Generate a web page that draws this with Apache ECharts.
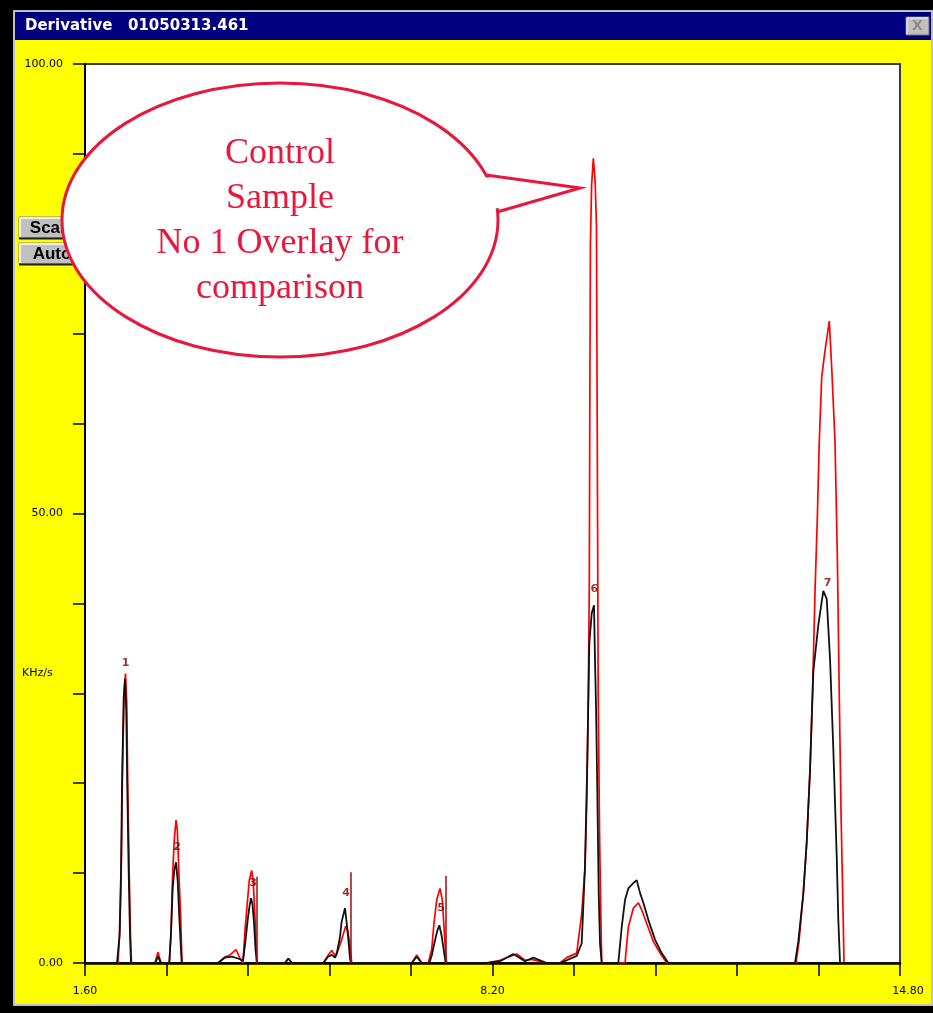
<!DOCTYPE html>
<html>
<head>
<meta charset="utf-8">
<title>Derivative 01050313.461</title>
<script src="https://cdn.jsdelivr.net/npm/echarts@6/dist/echarts.min.js"></script>
<style>
  html, body { margin: 0; padding: 0; background: #000; }
  #chart { width: 933px; height: 1013px; }
</style>
</head>
<body>
<div id="chart"></div>
<script>
// Sample trace (black) and control sample No 1 overlay (red): [time, KHz/s]
const blackTrace = [
  [1.6, 0],
  [2.118, 0], [2.159, 3], [2.183, 10], [2.200, 20], [2.226, 29.5], [2.248, 31.6], [2.268, 28], [2.284, 20], [2.305, 11], [2.329, 3], [2.345, 0],
  [2.734, 0], [2.782, 0.7], [2.831, 0],
  [2.965, 0], [2.993, 3.3], [3.020, 8.3], [3.046, 10.3], [3.074, 11.2], [3.101, 9.2], [3.127, 5.1], [3.150, 2], [3.166, 0],
  [3.754, 0], [3.868, 0.6], [3.981, 0.7], [4.078, 0.5], [4.159, 0.3], [4.200, 2.5], [4.235, 4.8], [4.264, 6.3], [4.289, 7.2], [4.313, 6.5], [4.337, 4.5], [4.362, 1.5], [4.386, 0],
  [4.839, 0], [4.893, 0.5], [4.953, 0],
  [5.460, 0], [5.536, 0.7], [5.596, 0.9], [5.650, 0.6], [5.677, 1.0], [5.730, 2.9], [5.757, 4.6], [5.811, 6.1], [5.839, 4.4], [5.865, 2.6], [5.892, 0.5], [5.908, 0],
  [6.892, 0], [6.973, 0.7], [7.054, 0],
  [7.177, 0], [7.215, 0.8], [7.258, 2.2], [7.306, 3.6], [7.339, 4.2], [7.377, 3.0], [7.415, 1.2], [7.442, 0],
  [8.106, 0], [8.322, 0.2], [8.537, 1.0], [8.727, 0.2], [8.861, 0.6], [9.078, 0],
  [9.294, 0], [9.402, 0.3], [9.564, 0.8], [9.645, 2.2], [9.698, 10.7], [9.736, 22.6], [9.768, 35.6], [9.807, 38.9], [9.844, 39.8], [9.860, 33.7], [9.877, 28.5], [9.898, 18.9], [9.920, 7.8], [9.941, 2.2], [9.969, 0],
  [10.238, 0], [10.293, 4.0], [10.346, 7.0], [10.400, 8.3], [10.481, 8.9], [10.536, 9.2], [10.589, 7.8], [10.643, 6.7], [10.724, 4.8], [10.832, 2.6], [10.940, 1.1], [11.048, 0],
  [13.100, 0], [13.153, 2.4], [13.234, 7.7], [13.289, 13.4], [13.343, 21.5], [13.396, 32.4], [13.477, 37.6], [13.558, 41.4], [13.613, 40.5], [13.667, 33.8], [13.720, 23.8], [13.775, 11.9], [13.801, 4.8], [13.829, 0],
  [14.8, 0]
];

const redTrace = [
  [1.6, 0],
  [2.134, 0], [2.167, 4], [2.191, 12], [2.208, 22], [2.234, 30], [2.256, 32.2], [2.276, 29], [2.292, 20], [2.313, 11], [2.337, 3], [2.353, 0],
  [2.734, 0], [2.782, 1.2], [2.831, 0],
  [2.965, 0], [2.993, 3.3], [3.020, 10], [3.046, 13.7], [3.074, 15.9], [3.095, 14.8], [3.127, 8.9], [3.150, 5.1], [3.171, 0],
  [3.754, 0], [3.851, 0.6], [3.949, 0.9], [4.046, 1.5], [4.111, 0.5], [4.159, 0], [4.192, 3.7], [4.229, 6.7], [4.261, 9.2], [4.300, 10.3], [4.326, 8.9], [4.353, 5.1], [4.381, 0],
  [4.839, 0], [4.893, 0.5], [4.953, 0],
  [5.460, 0], [5.541, 0.9], [5.596, 1.4], [5.650, 0.8], [5.703, 1.5], [5.757, 2.6], [5.822, 4.1], [5.855, 3.6], [5.892, 2.0], [5.920, 0],
  [6.892, 0], [6.973, 0.9], [7.054, 0],
  [7.160, 0], [7.215, 1.5], [7.253, 4.5], [7.296, 7.0], [7.350, 8.3], [7.387, 7.0], [7.415, 4.0], [7.442, 1.0], [7.458, 0],
  [8.106, 0], [8.322, 0.3], [8.592, 1.0], [8.727, 0.3], [8.835, 0.4], [9.078, 0],
  [9.294, 0], [9.402, 0.6], [9.564, 1.1], [9.645, 5.5], [9.698, 10.6], [9.726, 17.8], [9.752, 29.8], [9.768, 42.3], [9.776, 62], [9.786, 80], [9.805, 86.5], [9.833, 89.5], [9.862, 87], [9.884, 82], [9.896, 60], [9.912, 29.8], [9.933, 15], [9.950, 7], [9.969, 0],
  [10.346, 0], [10.400, 4.0], [10.481, 6.1], [10.562, 6.7], [10.617, 5.9], [10.698, 4.4], [10.805, 2.4], [10.913, 1.1], [11.022, 0],
  [13.116, 0], [13.164, 2.4], [13.234, 7.7], [13.289, 13.4], [13.343, 21.5], [13.383, 30], [13.424, 41.4], [13.461, 49.5], [13.493, 58.1], [13.532, 65.2], [13.585, 68.1], [13.655, 71.4], [13.694, 66.2], [13.747, 58.1], [13.785, 45.3], [13.817, 29.6], [13.845, 16.7], [13.882, 4.3], [13.893, 0],
  [14.8, 0]
];

// Peak numbers and where they sit
const peakNames = ['1', '2', '3', '4', '5', '6', '7'];
const peakX = [2.256, 3.090, 4.321, 5.828, 7.366, 9.849, 13.629];
const peakY = [33.4, 12.9, 8.9, 7.8, 6.1, 41.6, 42.3];

// Integration markers: [time, height]
const peakMarkers = [[4.386, 9.6], [5.908, 10.1], [7.447, 9.7]];

// Axis ticks and labels
const xTickValues = [1.6, 2.92, 4.24, 5.56, 6.88, 8.2, 9.52, 10.84, 12.16, 13.48, 14.8];
const xLabelValues = [1.6, 8.2, 14.8];
const yLabelValues = [0, 50, 100];

const windowTitle = 'Derivative';
const fileName = '01050313.461';
const unitLabel = 'KHz/s';
const calloutText = 'Control\nSample\nNo 1 Overlay for\ncomparison';
const buttonLabels = ['Scale', 'Auto'];

const CALLOUT_RED = '#e8173c';
const NAVY = '#000080';
const GREY = '#c0c0c0';

const chart = echarts.init(document.getElementById('chart'), null, { renderer: 'canvas' });

function button(y, label) {
  return [
    { type: 'rect', z: 50, shape: { x: 19, y: y, width: 62, height: 21 },
      style: { fill: GREY, stroke: '#808080', lineWidth: 1 } },
    { type: 'polyline', z: 51, shape: { points: [[20, y + 20], [20, y + 1], [80, y + 1]] },
      style: { stroke: '#fff', lineWidth: 1.5, fill: null } },
    { type: 'line', z: 51, shape: { x1: 19, y1: y + 21.5, x2: 82, y2: y + 21.5 },
      style: { stroke: '#202020', lineWidth: 2 } },
    { type: 'text', z: 52, x: 52, y: y + 11,
      style: { text: label, font: 'bold 17px "Liberation Sans"', fill: '#000', align: 'center', verticalAlign: 'middle' } }
  ];
}

const option = {
  backgroundColor: '#ffff00',
  animation: false,
  grid: {
    left: 85, right: 33, top: 64, bottom: 50,
    show: true, backgroundColor: '#ffffff', borderColor: '#3a3a3a', borderWidth: 2
  },
  xAxis: {
    type: 'value', min: 1.6, max: 14.8,
    axisLine: { show: true, onZero: false, lineStyle: { color: '#000', width: 2.5 } },
    axisTick: { show: true, length: 13, customValues: xTickValues, lineStyle: { color: '#000', width: 1.5 } },
    axisLabel: {
      customValues: xLabelValues, margin: 23, color: '#000',
      fontFamily: 'DejaVu Sans', fontSize: 11,
      formatter: v => (v === 14.8 ? '{r|' + v.toFixed(2) + '}' : v.toFixed(2)),
      rich: { r: { padding: [0, 0, 0, 16], fontFamily: 'DejaVu Sans', fontSize: 11, color: '#000' } }
    },
    splitLine: { show: false }
  },
  yAxis: {
    type: 'value', min: 0, max: 100, interval: 10,
    axisLine: { show: true, lineStyle: { color: '#000', width: 2 } },
    axisTick: { show: true, length: 12, lineStyle: { color: '#000', width: 1.5 } },
    axisLabel: {
      customValues: yLabelValues, margin: 22, color: '#000',
      fontFamily: 'DejaVu Sans', fontSize: 11,
      formatter: v => v.toFixed(2)
    },
    splitLine: { show: false }
  },
  series: [
    {
      name: 'Control Sample No 1', type: 'line', data: redTrace, z: 3,
      showSymbol: false, symbol: 'none', smooth: false,
      lineStyle: { color: '#ff0000', width: 1.7 }
    },
    {
      name: 'Sample', type: 'line', data: blackTrace, z: 4,
      showSymbol: false, symbol: 'none', smooth: false,
      lineStyle: { color: '#111', width: 1.8 }
    },
    {
      name: 'markers', type: 'custom', z: 5, data: peakMarkers,
      renderItem: (params, api) => {
        const p0 = api.coord([api.value(0), 0]);
        const p1 = api.coord([api.value(0), api.value(1)]);
        return { type: 'line', shape: { x1: p0[0], y1: p0[1], x2: p1[0], y2: p1[1] },
                 style: { stroke: '#9a1010', lineWidth: 1.5 } };
      }
    },
    {
      name: 'peaks', type: 'scatter', z: 6, symbolSize: 1,
      itemStyle: { color: 'rgba(0,0,0,0)' },
      data: peakNames.map((n, i) => ({ name: n, value: [peakX[i], peakY[i]] })),
      label: {
        show: true, position: 'inside', formatter: '{b}',
        color: '#7a0000', fontFamily: 'DejaVu Sans', fontWeight: 'bold', fontSize: 11
      }
    }
  ],
  graphic: [
    // window frame
    { type: 'rect', shape: { x: 0, y: 0, width: 933, height: 10 }, style: { fill: '#000' } },
    { type: 'rect', shape: { x: 0, y: 0, width: 13, height: 1013 }, style: { fill: '#000' } },
    { type: 'rect', shape: { x: 0, y: 1006, width: 933, height: 7 }, style: { fill: '#000' } },
    { type: 'rect', shape: { x: 13, y: 10, width: 920, height: 2 }, style: { fill: GREY } },
    { type: 'rect', shape: { x: 13, y: 10, width: 2, height: 996 }, style: { fill: GREY } },
    { type: 'rect', shape: { x: 931, y: 10, width: 2, height: 996 }, style: { fill: GREY } },
    { type: 'rect', shape: { x: 13, y: 1004, width: 920, height: 2 }, style: { fill: GREY } },
    // title bar
    { type: 'rect', shape: { x: 15, y: 12, width: 916, height: 28 }, style: { fill: NAVY } },
    { type: 'text', x: 25, y: 26, style: { text: windowTitle, font: 'bold 15px "DejaVu Sans"', fill: '#fff', verticalAlign: 'middle' } },
    { type: 'text', x: 128, y: 26, style: { text: fileName, font: 'bold 15px "DejaVu Sans"', fill: '#fff', verticalAlign: 'middle' } },
    // close box
    { type: 'rect', shape: { x: 906, y: 17, width: 23, height: 18 }, style: { fill: GREY, stroke: '#707070', lineWidth: 1 } },
    { type: 'polyline', shape: { points: [[907, 34], [907, 18], [928, 18]] }, style: { stroke: '#fff', lineWidth: 1, fill: null } },
    { type: 'text', x: 917.5, y: 26.5, style: { text: 'X', font: 'bold 14px "DejaVu Sans"', fill: '#8a8a8a', align: 'center', verticalAlign: 'middle', textShadowColor: '#fff', textShadowOffsetX: 1, textShadowOffsetY: 1 } },
    // unit label
    { type: 'text', x: 22, y: 673, style: { text: unitLabel, font: '11px "DejaVu Sans"', fill: '#000', verticalAlign: 'middle' } },
    // buttons
    ...button(217, buttonLabels[0]),
    ...button(243, buttonLabels[1]),
    // callout bubble
    { type: 'ellipse', z: 100, shape: { cx: 280, cy: 220, rx: 218, ry: 137 },
      style: { fill: '#fff', stroke: CALLOUT_RED, lineWidth: 3 } },
    { type: 'polygon', z: 101, shape: { points: [[482, 177], [578, 188], [490, 210]] },
      style: { fill: '#fff' } },
    { type: 'polyline', z: 102, shape: { points: [[486, 175], [580, 188], [497, 212]] },
      style: { stroke: CALLOUT_RED, lineWidth: 3, fill: null } },
    { type: 'text', z: 103, x: 280, y: 221,
      style: { text: calloutText, font: '36px "Liberation Serif"', fill: CALLOUT_RED,
               align: 'center', verticalAlign: 'middle', lineHeight: 45 } }
  ]
};

chart.setOption(option);
</script>
</body>
</html>
